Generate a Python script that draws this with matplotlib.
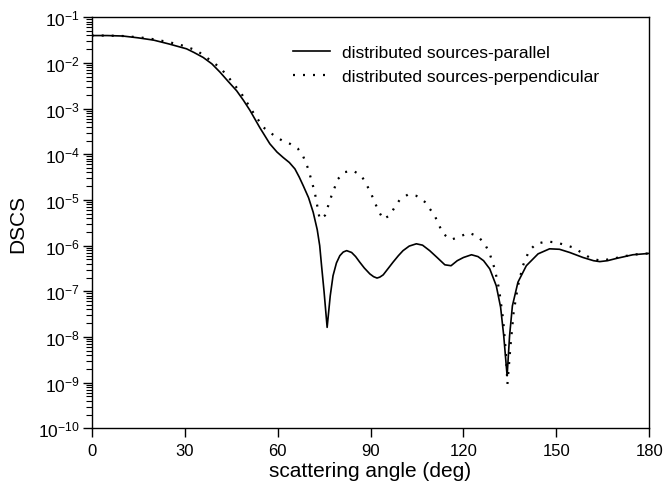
import numpy as np
import matplotlib
matplotlib.use("Agg")
import matplotlib.pyplot as plt
from matplotlib.ticker import LogLocator, FixedLocator, FuncFormatter, NullFormatter

plt.rcParams['font.family'] = ['Liberation Sans', 'DejaVu Sans']
plt.rcParams['mathtext.fontset'] = 'custom'
plt.rcParams['mathtext.rm'] = 'Liberation Sans'
plt.rcParams['mathtext.it'] = 'Liberation Sans:italic'
plt.rcParams['mathtext.bf'] = 'Liberation Sans:bold'

# ---- data (angle in deg, log10 of DSCS) ----
par_angle = [0, 5, 10, 15, 20, 25, 30.6, 33, 36, 38.8, 41.4, 44, 46.8, 49, 51.1, 54.3,
             57.5, 59.8, 61.8, 63.8, 65.6, 67, 68.3, 70, 71.5, 72.8, 73.6, 74.2, 75,
             76.0, 77, 77.9, 79, 80.1, 81.2, 82.3, 83.9, 85.2, 86.5, 88, 89.8, 91, 92.1,
             93, 94.1, 95.7, 97.3, 99, 100.5, 102.5, 104.8, 106.8, 109.1, 111.5, 114.0,
             116.0, 118, 120, 122.6, 124.7, 126.5, 128.5, 130.6, 132.0, 133.0, 134.1,
             134.9, 135.8, 137.6, 140.3, 144.1, 147.8, 151, 154.3, 158.6, 162, 164,
             166.5, 169.4, 174.7, 180]
par_log = [-1.40, -1.40, -1.41, -1.45, -1.50, -1.585, -1.69, -1.77, -1.88, -2.02, -2.20,
           -2.40, -2.61, -2.82, -3.04, -3.42, -3.77, -3.95, -4.07, -4.18, -4.32, -4.50,
           -4.69, -4.95, -5.27, -5.65, -6.00, -6.44, -7.00, -7.79, -7.10, -6.66, -6.38,
           -6.22, -6.14, -6.11, -6.15, -6.24, -6.36, -6.49, -6.62, -6.68, -6.71, -6.69,
           -6.64, -6.50, -6.36, -6.22, -6.11, -6.01, -5.96, -5.99, -6.11, -6.26, -6.42,
           -6.44, -6.33, -6.26, -6.20, -6.24, -6.33, -6.51, -6.88, -7.35, -7.97, -8.85,
           -7.97, -7.32, -6.80, -6.44, -6.18, -6.07, -6.08, -6.15, -6.26, -6.33, -6.35,
           -6.33, -6.28, -6.20, -6.17]

perp_angle = [0, 5, 10, 15.6, 20, 25.3, 30, 33.9, 36.5, 39.2, 41.4, 44.1, 48.4, 52.1,
              55.4, 59.1, 61.5, 64.0, 66.6, 68.3, 69.9, 72.0, 73.6, 75.3, 77.4, 79.5,
              81.7, 84.4, 87.1, 89.8, 92.5, 94.1, 96.2, 97.8, 99.4, 102.1, 104.8, 107.5,
              110.7, 113.4, 116.1, 118.8, 121.8, 124.7, 126.9, 128.5, 130.1, 131.5,
              132.8, 133.7, 134.2, 135.2, 136.2, 137.6, 139.2, 141.2, 143.5, 146.8,
              150.0, 155.4, 160.7, 164, 168, 172, 176, 180]
perp_log = [-1.40, -1.40, -1.41, -1.44, -1.48, -1.55, -1.63, -1.73, -1.85, -1.99, -2.10,
            -2.31, -2.68, -3.08, -3.41, -3.60, -3.70, -3.77, -3.88, -4.05, -4.32, -4.83,
            -5.42, -5.34, -4.91, -4.54, -4.39, -4.36, -4.47, -4.80, -5.23, -5.42, -5.34,
            -5.16, -5.00, -4.88, -4.91, -5.04, -5.34, -5.74, -5.87, -5.80, -5.72, -5.80,
            -5.96, -6.18, -6.51, -6.95, -7.61, -8.34, -9.03, -8.19, -7.46, -6.88, -6.44,
            -6.11, -5.96, -5.91, -5.93, -6.04, -6.26, -6.33, -6.29, -6.23, -6.19, -6.17]

labels = ["distributed sources-parallel", "distributed sources-perpendicular"]
x_ticks = [0, 30, 60, 90, 120, 150, 180]

fig = plt.figure(figsize=(6.65, 4.89), dpi=100)
ax = fig.add_axes([0.1379, 0.1221, 0.9764 - 0.1379, 0.9626 - 0.1221])

ax.plot(par_angle, np.power(10.0, par_log), color='black', lw=1.2, label=labels[0])
ax.plot(perp_angle, np.power(10.0, perp_log), color='black', lw=1.6,
        linestyle=(0, (0.9, 3.6)), label=labels[1])

ax.set_yscale('log')
ax.set_xlim(0, 180)
ax.set_ylim(1e-10, 1e-1)
ax.xaxis.set_major_locator(FixedLocator(x_ticks))
ax.yaxis.set_major_locator(LogLocator(base=10, numticks=20))
ax.yaxis.set_minor_locator(LogLocator(base=10, subs=np.arange(2, 10), numticks=20))
ax.yaxis.set_minor_formatter(NullFormatter())
ax.yaxis.set_major_formatter(FuncFormatter(
    lambda v, p: r'$\mathregular{10^{%d}}$' % int(round(np.log10(v)))))

for s in ax.spines.values():
    s.set_linewidth(1.0)
ax.tick_params(axis='y', which='major', direction='out', length=6.5, width=1.0,
               labelsize=12.5, pad=2)
ax.tick_params(axis='y', which='minor', direction='out', length=4, width=0.8)
ax.tick_params(axis='x', which='major', direction='out', length=6.5, width=1.0,
               labelsize=12, pad=4)
ax.tick_params(top=False, right=False)

ax.set_xlabel('scattering angle (deg)', fontsize=15, labelpad=2)
ax.set_ylabel('DSCS', fontsize=15, labelpad=8)

ax.legend(loc='upper left', bbox_to_anchor=(293 / 665, 1 - 46 / 489),
          bbox_transform=fig.transFigure, frameon=False, fontsize=12.5,
          handlelength=2.15, handletextpad=0.7, labelspacing=0.52,
          borderpad=0, borderaxespad=0)

fig.savefig('out.png', dpi=100)
